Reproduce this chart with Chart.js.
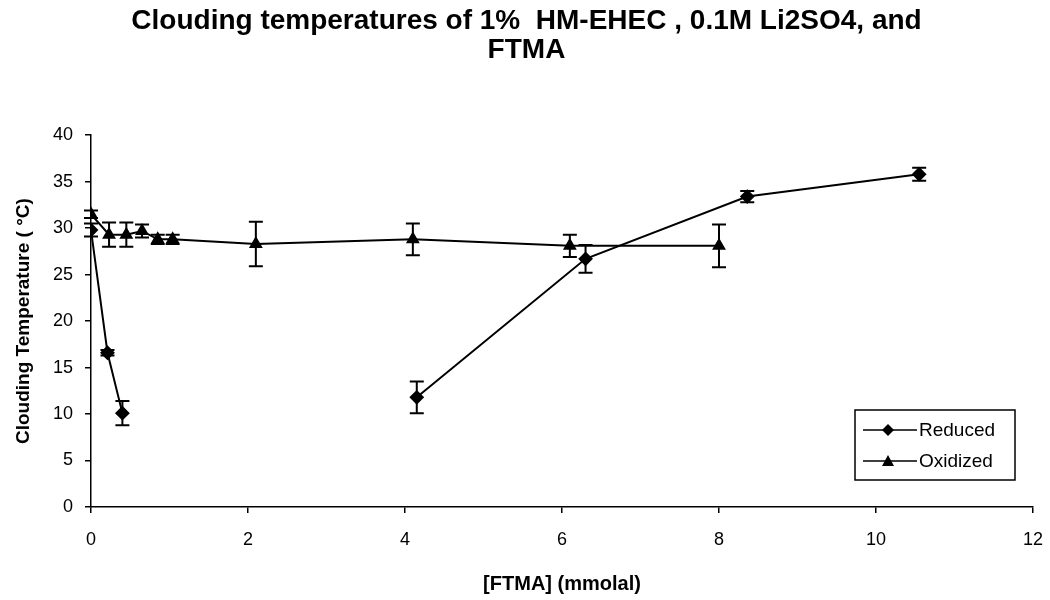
<!DOCTYPE html>
<html>
<head>
<meta charset="utf-8">
<script src="https://cdn.jsdelivr.net/npm/chart.js@4.4.0/dist/chart.umd.min.js"></script>
<style>
  html,body{margin:0;padding:0;background:#fff;}
  #wrap{width:1050px;height:600px;position:relative;}
</style>
</head>
<body>
<div id="wrap"><canvas id="chart" width="1050" height="600"></canvas></div>
<script>
// values
const reducedX   = [0, 0.21, 0.4, 4.15, 6.3, 8.36, 10.55];
const reducedY   = [29.8, 16.6, 10.1, 11.8, 26.7, 33.4, 35.8];
const reducedErr = [0.7, 0.3, 1.3, 1.7, 1.5, 0.6, 0.7];
const reducedBreakAfter = 2; // no line between 0.4 and 4.15

const oxidizedX   = [0, 0.23, 0.45, 0.65, 0.85, 1.04, 2.1, 4.1, 6.1, 8.0];
const oxidizedY   = [31.5, 29.3, 29.3, 29.7, 28.8, 28.8, 28.3, 28.8, 28.1, 28.1];
const oxidizedErr = [0.4, 1.3, 1.3, 0.7, 0.5, 0.5, 2.4, 1.7, 1.2, 2.3];

const xTicks = [0, 2, 4, 6, 8, 10, 12];
const yTicks = [0, 5, 10, 15, 20, 25, 30, 35, 40];

const FONT = '"Liberation Sans", Arial, sans-serif';
const toPoints = (xs, ys) => xs.map((x, i) => ({x: x, y: ys[i]}));

const errorBars = {
  id: 'errorBars',
  afterDatasetsDraw(chart){
    const ctx = chart.ctx, ys = chart.scales.y;
    chart.data.datasets.forEach((ds, i) => {
      const meta = chart.getDatasetMeta(i);
      ctx.save();
      ctx.strokeStyle = '#000';
      ctx.lineWidth = 2;
      meta.data.forEach((pt, j) => {
        const v = ds.data[j].y, e = ds.errors[j];
        const top = ys.getPixelForValue(v + e), bot = ys.getPixelForValue(v - e);
        ctx.beginPath();
        ctx.moveTo(pt.x, top); ctx.lineTo(pt.x, bot);
        ctx.moveTo(pt.x - 7, top); ctx.lineTo(pt.x + 7, top);
        ctx.moveTo(pt.x - 7, bot); ctx.lineTo(pt.x + 7, bot);
        ctx.stroke();
      });
      ctx.restore();
    });
  }
};

const boxLegend = {
  id: 'boxLegend',
  afterDraw(chart){
    const ctx = chart.ctx;
    const bx = 855, by = 410, bw = 160, bh = 70;
    ctx.save();
    ctx.fillStyle = '#fff';
    ctx.fillRect(bx, by, bw, bh);
    ctx.strokeStyle = '#000';
    ctx.lineWidth = 1.5;
    ctx.strokeRect(bx, by, bw, bh);
    ctx.font = '19px ' + FONT;
    ctx.textBaseline = 'middle';
    chart.data.datasets.forEach((ds, i) => {
      const y = by + 20 + i * 31;
      ctx.strokeStyle = '#000';
      ctx.lineWidth = 1.5;
      ctx.beginPath(); ctx.moveTo(bx + 8, y); ctx.lineTo(bx + 62, y); ctx.stroke();
      ctx.fillStyle = '#000';
      const cx = bx + 33;
      ctx.beginPath();
      if (ds.pointStyle === 'rectRot'){
        ctx.moveTo(cx, y - 6); ctx.lineTo(cx + 6, y); ctx.lineTo(cx, y + 6); ctx.lineTo(cx - 6, y);
      } else {
        ctx.moveTo(cx, y - 6); ctx.lineTo(cx + 6, y + 5); ctx.lineTo(cx - 6, y + 5);
      }
      ctx.closePath(); ctx.fill();
      ctx.fillText(ds.label, bx + 64, y + 1);
    });
    ctx.restore();
  }
};

new Chart(document.getElementById('chart'), {
  type: 'scatter',
  data: {
    datasets: [
      {
        label: 'Reduced',
        data: toPoints(reducedX, reducedY),
        errors: reducedErr,
        showLine: true,
        borderColor: '#000',
        backgroundColor: '#000',
        borderWidth: 2,
        pointStyle: 'rectRot',
        pointRadius: 6,
        pointHoverRadius: 6,
        segment: { borderColor: c => c.p0DataIndex === reducedBreakAfter ? 'rgba(0,0,0,0)' : '#000' }
      },
      {
        label: 'Oxidized',
        data: toPoints(oxidizedX, oxidizedY),
        errors: oxidizedErr,
        showLine: true,
        borderColor: '#000',
        backgroundColor: '#000',
        borderWidth: 2,
        pointStyle: 'triangle',
        pointRadius: 6,
        pointHoverRadius: 6
      }
    ]
  },
  options: {
    responsive: false,
    animation: false,
    layout: { padding: { left: 20, right: 17, top: 0, bottom: 0 } },
    plugins: {
      legend: { display: false },
      tooltip: { enabled: false },
      title: {
        display: true,
        text: ['Clouding temperatures of 1%  HM-EHEC , 0.1M Li2SO4, and', 'FTMA'],
        color: '#000',
        font: { family: FONT, size: 28, weight: 'bold', lineHeight: 1.04 },
        padding: { top: 7, bottom: 70 }
      }
    },
    scales: {
      x: {
        type: 'linear', min: 0, max: 12,
        afterBuildTicks: s => { s.ticks = xTicks.map(v => ({value: v})); },
        afterFit: s => { s.height = 93; s.paddingRight = 0; s.paddingLeft = 0; },
        border: { color: '#000', width: 1.5 },
        grid: { drawOnChartArea: false, tickLength: 6, color: '#000', lineWidth: 1.5 },
        ticks: { color: '#000', padding: 16, font: { family: FONT, size: 18 } },
        title: { display: true, text: '[FTMA] (mmolal)', color: '#000', padding: { top: 12 },
                 font: { family: FONT, size: 20, weight: 'bold' } }
      },
      y: {
        type: 'linear', min: 0, max: 40,
        afterBuildTicks: s => { s.ticks = yTicks.map(v => ({value: v})); },
        afterFit: s => { s.width = 71; },
        border: { color: '#000', width: 1.5 },
        grid: { drawOnChartArea: false, tickLength: 6, color: '#000', lineWidth: 1.5 },
        ticks: { color: '#000', padding: 12, font: { family: FONT, size: 18 } },
        title: { display: true, text: 'Clouding Temperature ( °C)', color: '#000', padding: { top: -8, bottom: 0 },
                 font: { family: FONT, size: 19, weight: 'bold' } }
      }
    }
  },
  plugins: [errorBars, boxLegend]
});
</script>
</body>
</html>
